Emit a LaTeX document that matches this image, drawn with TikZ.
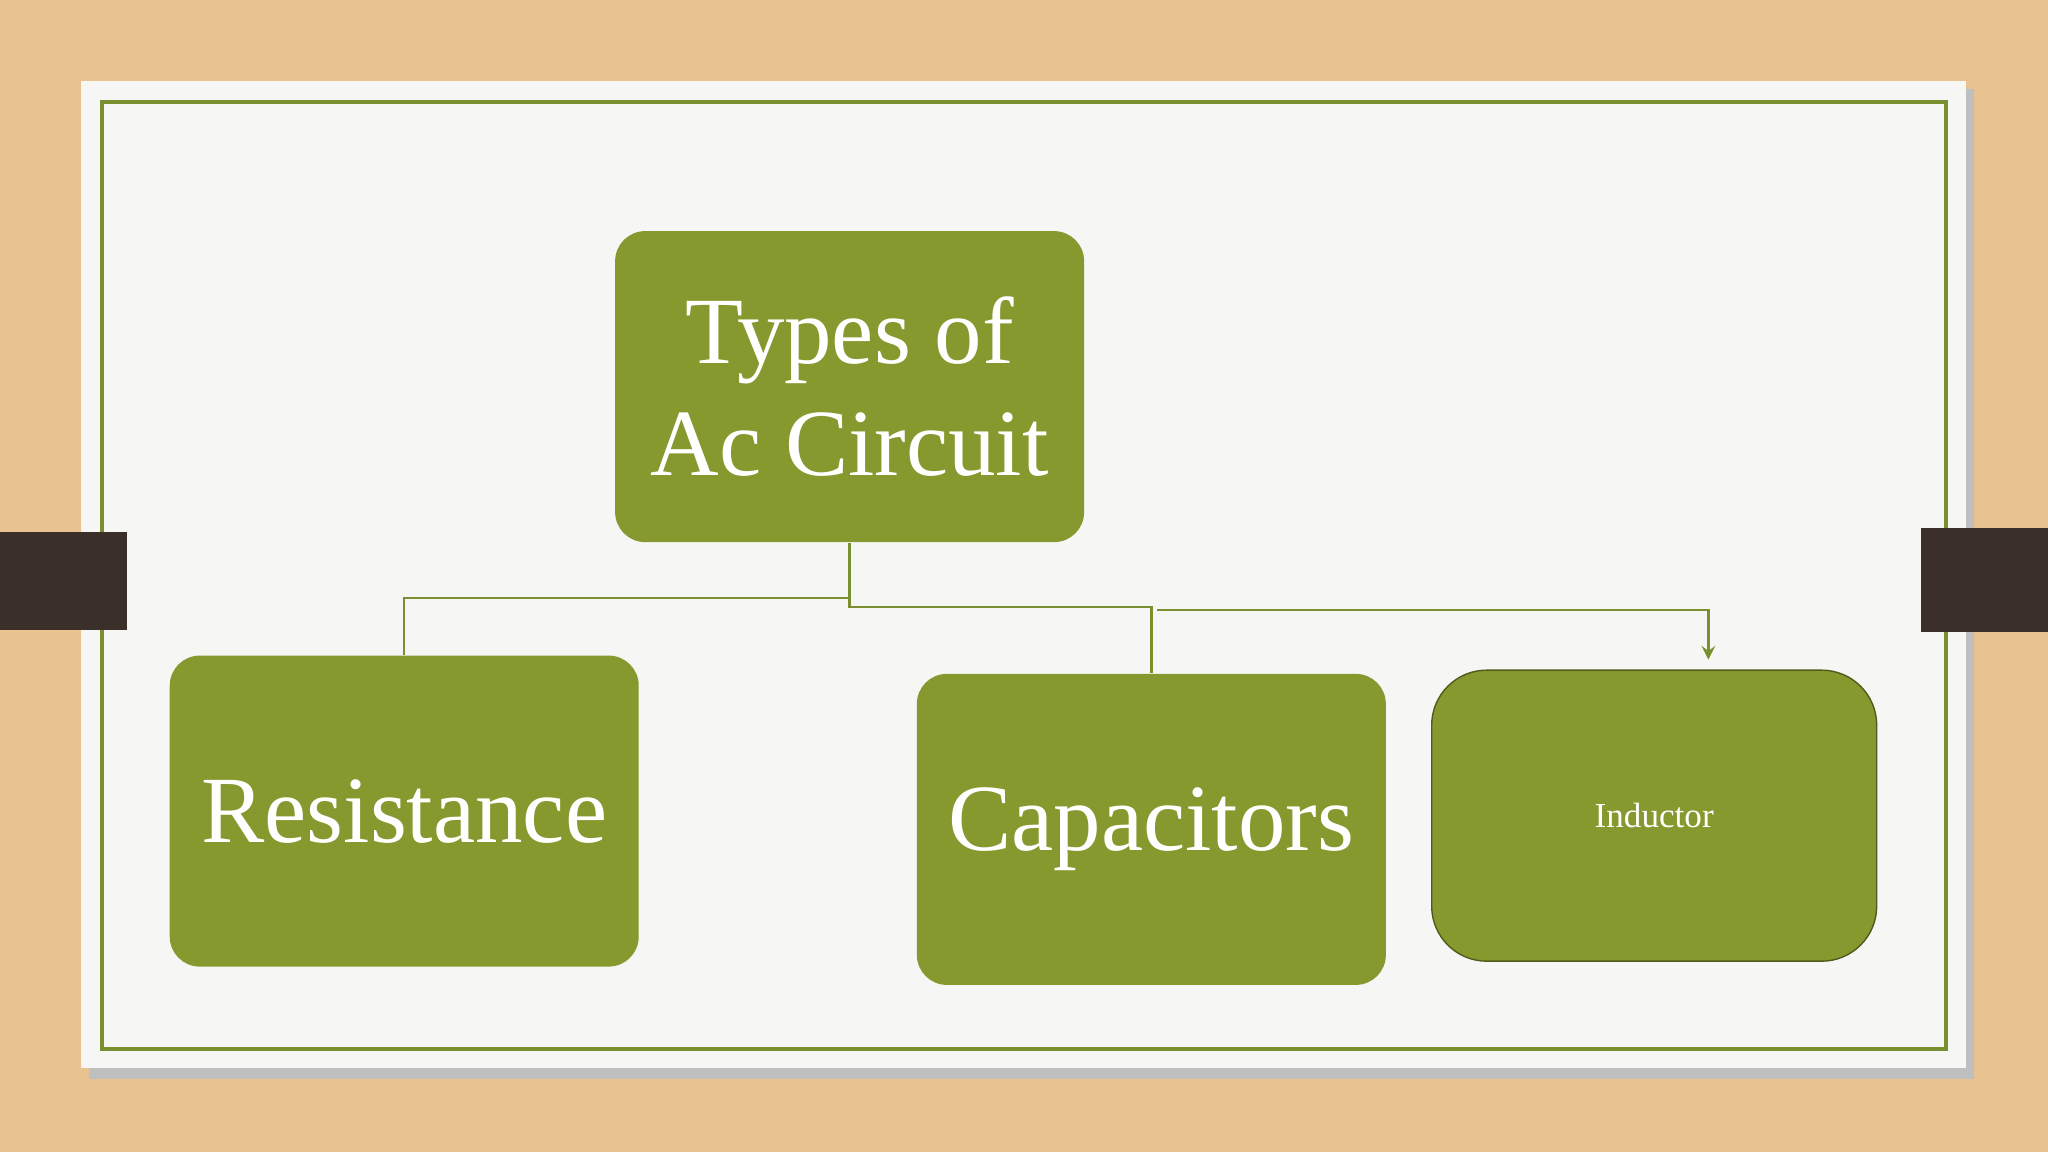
\documentclass[tikz,border=0pt]{standalone}
\usepackage{fontspec}
\setmainfont{Liberation Serif}
\usetikzlibrary{positioning}
\definecolor{wood}{HTML}{E8C390}
\definecolor{card}{HTML}{F6F6F5}
\definecolor{leaf}{HTML}{86992E}
\definecolor{frameline}{HTML}{7A9030}
\definecolor{tab}{HTML}{3A3029}
\begin{document}
\begin{tikzpicture}[x=0.013061cm,y=-0.013061cm,>=stealth]

    % Define node styles
    \tikzset{big_box/.style={fill=leaf, rounded corners=0.3cm, minimum width=4.69cm, minimum height=3.11cm, text=white, align=center, font=\fontsize{27}{32}\selectfont}}
    \tikzset{small_box/.style={fill=leaf, draw=leaf!60!black, rounded corners=0.55cm, minimum width=4.45cm, minimum height=2.91cm, text=white, font=\fontsize{10}{12}\selectfont}}
    \tikzset{link/.style={draw=frameline, line width=0.7pt}}

    % Slide background
    \fill[wood] (0,0) rectangle (1568,882);
    \fill[black!25] (68,68) rectangle (1511,826);
    \fill[card] (62,62) rectangle (1505,818);
    \draw[frameline, line width=1pt] (78,78) rectangle (1490,803);
    \fill[tab] (0,407) rectangle (97,482);
    \fill[tab] (1471,404) rectangle (1568,484);
    \useasboundingbox (0,0) rectangle (1568,882);

    % Draw nodes
    \node [big_box] (types) at (650.5,296) {Types of\\Ac Circuit};
    \node [big_box] (resistance) at (309.5,621) {Resistance};
    \node [big_box] (capacitors) at (881.5,635) {Capacitors};
    \node [small_box] (inductor) at (1266.5,624.5) {Inductor};
    \coordinate (split) at (650.5,458);
    \coordinate (fork) at (886,467);
    \coordinate (drop) at (1308,505);

    % Draw arrows
    \draw [link] (types.south) -- (split) -| (resistance.north);
    \draw [link] (types.south) |- ([yshift=-0.09cm]split -| capacitors.north) -- (capacitors.north);
    \draw [link, ->] (fork) -| (drop);
\end{tikzpicture}
\end{document}
